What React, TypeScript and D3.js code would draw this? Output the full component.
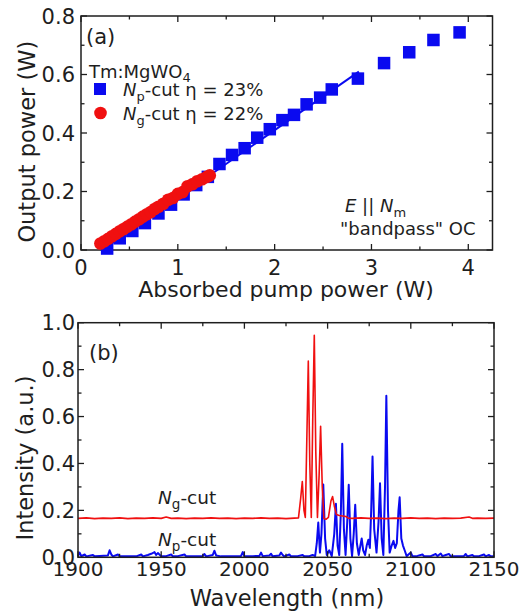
import React from "react";
import * as d3 from "d3";

// panel (a): output vs absorbed pump power
const npX = [0.27, 0.4, 0.53, 0.66, 0.8, 0.93, 1.06, 1.19, 1.31, 1.43, 1.56, 1.69, 1.82, 1.95, 2.08, 2.2, 2.33, 2.47, 2.59, 2.86, 3.13, 3.39, 3.64, 3.91];
const npY = [0.005, 0.04, 0.065, 0.092, 0.125, 0.155, 0.19, 0.222, 0.25, 0.294, 0.325, 0.348, 0.384, 0.413, 0.444, 0.462, 0.498, 0.521, 0.549, 0.586, 0.639, 0.676, 0.718, 0.744];
const ngX = [0.2, 0.24, 0.28, 0.32, 0.36, 0.4, 0.44, 0.48, 0.52, 0.56, 0.6, 0.64, 0.68, 0.72, 0.76, 0.8, 0.85, 0.9, 0.95, 1.0, 1.05, 1.1, 1.15, 1.2, 1.25, 1.3, 1.33];
const ngY = [0.022, 0.03, 0.038, 0.047, 0.055, 0.064, 0.072, 0.08, 0.088, 0.097, 0.105, 0.114, 0.122, 0.13, 0.14, 0.148, 0.158, 0.172, 0.178, 0.192, 0.198, 0.218, 0.225, 0.235, 0.242, 0.25, 0.255];
const npFitX = [0.22, 2.87];
const npFitY = [0, 0.61];

// panel (b): laser spectra [wavelength nm, intensity]
const ngSpectrum: [number, number][] = [
  [1900, 0.166], [1905, 0.168], [1910, 0.165], [1915, 0.167], [1920, 0.166], [1925, 0.168], [1930, 0.165],
  [1935, 0.167], [1940, 0.166], [1945, 0.168], [1950, 0.166], [1953, 0.172], [1956, 0.166], [1960, 0.167],
  [1965, 0.165], [1970, 0.167], [1975, 0.166], [1980, 0.168], [1985, 0.166], [1990, 0.167], [1995, 0.165],
  [2000, 0.167], [2005, 0.166], [2010, 0.168], [2015, 0.166], [2020, 0.167], [2025, 0.165], [2030, 0.167],
  [2032.5, 0.168], [2033.8, 0.25], [2034.8, 0.323], [2035.8, 0.2], [2036.6, 0.17], [2037.5, 0.5],
  [2038.4, 0.836], [2039.3, 0.4], [2040.2, 0.17], [2041.1, 0.6], [2042, 0.946], [2042.9, 0.45],
  [2043.9, 0.17], [2044.9, 0.35], [2045.8, 0.558], [2046.8, 0.3], [2047.8, 0.165], [2049, 0.162],
  [2050.5, 0.17], [2052, 0.24], [2053, 0.259], [2054, 0.22], [2055.3, 0.182], [2057, 0.178], [2059, 0.176],
  [2061, 0.174], [2062.5, 0.167], [2065, 0.166], [2070, 0.168], [2075, 0.166], [2080, 0.167], [2085, 0.165],
  [2090, 0.167], [2095, 0.166], [2100, 0.168], [2105, 0.166], [2110, 0.167], [2115, 0.165], [2120, 0.167],
  [2125, 0.166], [2130, 0.167], [2135, 0.172], [2137, 0.166], [2140, 0.167], [2145, 0.166], [2150, 0.167],
];
const npSpectrum: [number, number][] = [
  [1900, 0.005], [1901, 0.02], [1902, 0.005], [1904, 0.012], [1905, 0.004], [1909, 0.01], [1910, 0.004],
  [1913, 0.006], [1918, 0.008], [1919, 0.03], [1920, 0.012], [1921, 0.004], [1924, 0.012], [1925, 0.004],
  [1930, 0.005], [1935, 0.004], [1938, 0.012], [1939, 0.004], [1942, 0.01], [1944, 0.015], [1946, 0.022],
  [1947, 0.01], [1948, 0.018], [1950, 0.004], [1953, 0.005], [1956, 0.012], [1957, 0.004], [1960, 0.005],
  [1964, 0.012], [1965, 0.004], [1970, 0.005], [1975, 0.006], [1976, 0.014], [1977, 0.004], [1981, 0.01],
  [1982, 0.028], [1983, 0.008], [1986, 0.004], [1990, 0.005], [1994, 0.004], [1998, 0.006], [1999, 0.022],
  [2000, 0.004], [2005, 0.005], [2009, 0.006], [2010, 0.02], [2011, 0.005], [2015, 0.008], [2016, 0.015],
  [2017, 0.004], [2021, 0.008], [2022, 0.02], [2023, 0.01], [2024, 0.004], [2027, 0.012], [2028, 0.004],
  [2032, 0.005], [2035, 0.01], [2036, 0.004], [2039, 0.005], [2041, 0.01], [2042.5, 0.005],
  [2043.5, 0.06], [2044.4, 0.148], [2045.4, 0.02], [2046.3, 0.1], [2047.4, 0.31], [2048.5, 0.08],
  [2049.5, 0.01], [2051, 0.03], [2052.5, 0.005], [2054, 0.1], [2055, 0.228], [2056, 0.05], [2057, 0.01],
  [2058, 0.2], [2058.8, 0.484], [2059.8, 0.12], [2060.8, 0.01], [2061.8, 0.15], [2062.7, 0.309],
  [2063.7, 0.08], [2064.7, 0.005], [2065.7, 0.1], [2066.6, 0.224], [2067.6, 0.06], [2068.7, 0.01],
  [2069.7, 0.05], [2070.5, 0.08], [2071.4, 0.03], [2072.5, 0.01], [2073.5, 0.05], [2074.5, 0.075],
  [2075.4, 0.04], [2076.2, 0.2], [2077, 0.43], [2078, 0.12], [2079.4, 0.02], [2080.6, 0.15],
  [2081.5, 0.316], [2082.5, 0.08], [2083.5, 0.01], [2084.5, 0.3], [2085.3, 0.689], [2086.3, 0.2],
  [2087.3, 0.02], [2088.5, 0.05], [2089.6, 0.07], [2090.6, 0.04], [2091.6, 0.06], [2092.6, 0.2],
  [2093.3, 0.256], [2094.3, 0.08], [2095.3, 0.05], [2096.3, 0.03], [2097.5, 0.005],
  [2100, 0.02], [2101, 0.005], [2104, 0.006], [2107, 0.012], [2108, 0.004], [2112, 0.005], [2115, 0.014],
  [2116, 0.005], [2118, 0.016], [2119, 0.005], [2121, 0.01], [2123, 0.014], [2124, 0.004], [2128, 0.005],
  [2132, 0.006], [2133, 0.014], [2134, 0.004], [2137, 0.01], [2138, 0.004], [2141, 0.005], [2144, 0.012],
  [2145, 0.004], [2147, 0.01], [2148, 0.004], [2150, 0.005],
];

const xTicksA = [0, 1, 2, 3, 4];
const yTicksA = [0, 0.2, 0.4, 0.6, 0.8];
const xTicksB = [1900, 1950, 2000, 2050, 2100, 2150];
const yTicksB = [0, 0.2, 0.4, 0.6, 0.8, 1.0];

const FONT = "'DejaVu Sans', Arial, sans-serif";
const INK = "#1e1e1e";
const BLUE = "#0a0af0";
const RED = "#f01010";

type Lin = d3.ScaleLinear<number, number>;

function Frame({ x, y, xMajor, xMinor, yMajor, yMinor, xFmt, yFmt, xLabDy, yLabGap, xLabSize }: {
  x: Lin; y: Lin; xMajor: number[]; xMinor: number[]; yMajor: number[]; yMinor: number[];
  xFmt: (v: number) => string; yFmt: (v: number) => string; xLabDy: number; yLabGap: number; xLabSize: number;
}) {
  const [x0, x1] = x.range();
  const [y0, y1] = y.range(); // y0 bottom, y1 top
  const big = 6, small = 3.5;
  const tk: JSX.Element[] = [];
  xMinor.forEach((v, i) => {
    const len = xMajor.includes(v) ? big : small;
    tk.push(<line key={"xb" + i} x1={x(v)} x2={x(v)} y1={y0} y2={y0 - len} />);
    tk.push(<line key={"xt" + i} x1={x(v)} x2={x(v)} y1={y1} y2={y1 + len} />);
  });
  yMinor.forEach((v, i) => {
    const len = yMajor.some((m) => Math.abs(m - v) < 1e-9) ? big : small;
    tk.push(<line key={"yl" + i} x1={x0} x2={x0 + len} y1={y(v)} y2={y(v)} />);
    tk.push(<line key={"yr" + i} x1={x1} x2={x1 - len} y1={y(v)} y2={y(v)} />);
  });
  return (
    <g>
      <g stroke={INK} strokeWidth={1.3}>{tk}</g>
      <rect x={x0} y={y1} width={x1 - x0} height={y0 - y1} fill="none" stroke={INK} strokeWidth={1.5} />
      <g fontFamily={FONT} fill={INK}>
        {xMajor.map((v) => (
          <text key={"xl" + v} x={x(v)} y={y0 + xLabDy} fontSize={xLabSize} textAnchor="middle">{xFmt(v)}</text>
        ))}
        {yMajor.map((v) => (
          <text key={"yl" + v} x={x0 - yLabGap} y={y(v)} dy="0.36em" fontSize={21} textAnchor="end">{yFmt(v)}</text>
        ))}
      </g>
    </g>
  );
}

export default function App() {
  const xA = d3.scaleLinear().domain([0, 4.25]).range([81, 492.5]);
  const yA = d3.scaleLinear().domain([0, 0.8]).range([250, 16]);
  const xB = d3.scaleLinear().domain([1900, 2150]).range([78, 494]);
  const yB = d3.scaleLinear().domain([0, 1]).range([557.3, 322.7]);

  const fitLine = d3.line<number>().x((d) => xA(d)).y((_, i) => yA(npFitY[i]));
  const specLine = d3.line<[number, number]>().x((d) => xB(d[0])).y((d) => yB(d[1]));

  const sq = 12.5;
  const f1 = d3.format(".1f");

  return (
    <svg width={522} height={615} style={{ position: "absolute", left: 0, top: 0, background: "#fff" }}>
      {/* panel (a) */}
      <Frame x={xA} y={yA} xMajor={xTicksA} xMinor={d3.range(0, 4.01, 0.5)}
        yMajor={yTicksA} yMinor={d3.range(0, 0.801, 0.1)}
        xFmt={(v) => String(v)} yFmt={f1} xLabDy={25} yLabGap={6} xLabSize={21} />
      <path d={fitLine(npFitX) || ""} fill="none" stroke={BLUE} strokeWidth={2} />
      {npX.map((v, i) => (
        <rect key={"np" + i} x={xA(v) - sq / 2} y={yA(npY[i]) - sq / 2} width={sq} height={sq} fill={BLUE} />
      ))}
      {ngX.map((v, i) => (
        <circle key={"ng" + i} cx={xA(v)} cy={yA(ngY[i])} r={6.3} fill={RED} />
      ))}
      <g fontFamily={FONT} fill={INK}>
        <text x={86} y={44} fontSize={21}>(a)</text>
        <text x={89} y={78} fontSize={18}>Tm:MgWO<tspan dy={4} fontSize={13}>4</tspan></text>
        <rect x={94} y={83} width={12} height={12} fill={BLUE} />
        <text x={123} y={96} fontSize={18}>
          <tspan fontStyle="italic">N</tspan><tspan dy={5} fontSize={13}>p</tspan><tspan dy={-5}>-cut η = 23%</tspan>
        </text>
        <circle cx={100.5} cy={113} r={6.3} fill={RED} />
        <text x={123} y={120} fontSize={18}>
          <tspan fontStyle="italic">N</tspan><tspan dy={5} fontSize={13}>g</tspan><tspan dy={-5}>-cut η = 22%</tspan>
        </text>
        <text x={345} y={212} fontSize={18}>
          <tspan fontStyle="italic">E</tspan> || <tspan fontStyle="italic">N</tspan><tspan dy={5} fontSize={13}>m</tspan>
        </text>
        <text x={340} y={235} fontSize={18}>"bandpass" OC</text>
        <text x={286} y={297} fontSize={22} textAnchor="middle">Absorbed pump power (W)</text>
        <text transform="translate(35,141.7) rotate(-90)" fontSize={22.5} textAnchor="middle">Output power (W)</text>
      </g>

      {/* panel (b) */}
      <path d={specLine(npSpectrum) || ""} fill="none" stroke={BLUE} strokeWidth={2} strokeLinejoin="round" />
      <path d={specLine(ngSpectrum) || ""} fill="none" stroke={RED} strokeWidth={1.6} strokeLinejoin="round" />
      <Frame x={xB} y={yB} xMajor={xTicksB} xMinor={d3.range(1900, 2150.1, 25)}
        yMajor={yTicksB} yMinor={d3.range(0, 1.001, 0.1)}
        xFmt={(v) => String(v)} yFmt={f1} xLabDy={18.5} yLabGap={3} xLabSize={20} />
      <g fontFamily={FONT} fill={INK}>
        <text x={89} y={360} fontSize={21}>(b)</text>
        <text x={158} y={504} fontSize={18.5}>
          <tspan fontStyle="italic">N</tspan><tspan dy={5} fontSize={13.5}>g</tspan><tspan dy={-5}>-cut</tspan>
        </text>
        <text x={158} y={546} fontSize={18.5}>
          <tspan fontStyle="italic">N</tspan><tspan dy={5} fontSize={13.5}>p</tspan><tspan dy={-5}>-cut</tspan>
        </text>
        <text x={287} y={606} fontSize={22.5} textAnchor="middle">Wavelength (nm)</text>
        <text transform="translate(33,458) rotate(-90)" fontSize={22.5} textAnchor="middle">Intensity (a.u.)</text>
      </g>
    </svg>
  );
}
